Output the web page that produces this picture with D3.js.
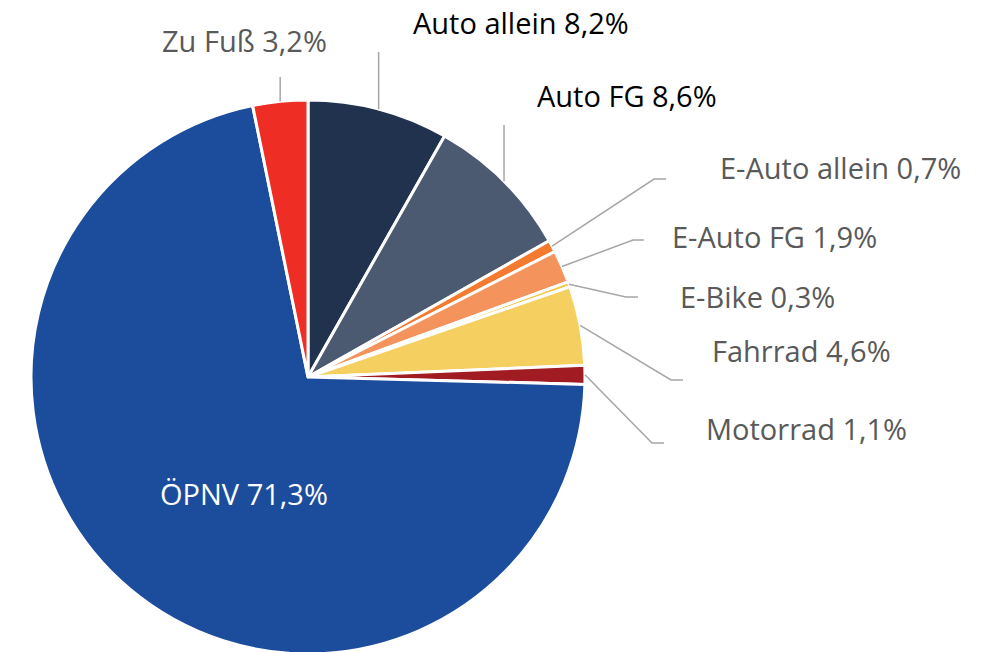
<!DOCTYPE html>
<html>
<head>
<meta charset="utf-8">
<script src="https://cdn.jsdelivr.net/npm/d3@7"></script>
<style>
  body { margin: 0; background: #fff; }
  text { font-family: "Open Sans", "Noto Sans", sans-serif; }
</style>
</head>
<body>
<script>
// Verkehrsmittelwahl (Anteile in %)
var categories = ["Auto allein", "Auto FG", "E-Auto allein", "E-Auto FG", "E-Bike", "Fahrrad", "Motorrad", "ÖPNV", "Zu Fuß"];
var shares = [8.2, 8.6, 0.7, 1.9, 0.3, 4.6, 1.1, 71.3, 3.2];
var shareLabels = ["8,2%", "8,6%", "0,7%", "1,9%", "0,3%", "4,6%", "1,1%", "71,3%", "3,2%"];
var colors = ["#21324f", "#4b5a71", "#f47a2f", "#f5935d", "#f5c542", "#f5cf60", "#a11c22", "#1c4d9c", "#ee2d24"];

// label layout (manual placement as in the original chart)
var labelLayout = [
  { x: 413, y: 22,  color: "#000",    elbow: [null, 52] },
  { x: 537, y: 95,  color: "#000",    elbow: [null, 125] },
  { x: 720, y: 167, color: "#595959", elbow: [654, 179], end: 666 },
  { x: 672, y: 236, color: "#595959", elbow: [633, 240], end: 644 },
  { x: 680, y: 296, color: "#595959", elbow: [626, 297], end: 638 },
  { x: 712, y: 350, color: "#595959", elbow: [671, 380], end: 683 },
  { x: 706, y: 428, color: "#595959", elbow: [652, 443], end: 664 },
  { x: 160, y: 493, color: "#fff",    inside: true },
  { x: 162, y: 40,  color: "#595959", elbow: [null, 77] }
];

var width = 981, height = 652;
var cx = 308, cy = 377, radius = 277;

var svg = d3.select("body").append("svg")
    .attr("width", width)
    .attr("height", height);

var data = categories.map(function(c, i) { return { name: c, value: shares[i], i: i }; });

var pie = d3.pie()
    .sort(null)
    .value(function(d) { return d.value; });

var arc = d3.arc().innerRadius(0).outerRadius(radius);

var arcs = pie(data);

var g = svg.append("g").attr("transform", "translate(" + cx + "," + cy + ")");

g.selectAll("path")
    .data(arcs)
    .enter().append("path")
      .attr("d", arc)
      .attr("fill", function(d) { return colors[d.data.i]; })
      .attr("stroke", "#fff")
      .attr("stroke-width", 3)
      .attr("stroke-linejoin", "round");

// leader lines
var lines = svg.append("g").attr("class", "leaders");
arcs.forEach(function(d) {
  var lay = labelLayout[d.data.i];
  if (lay.inside) return;
  var a = (d.startAngle + d.endAngle) / 2;
  var x0 = cx + radius * Math.sin(a), y0 = cy - radius * Math.cos(a);
  var pts = [[x0, y0]];
  if (lay.elbow[0] === null) {
    pts.push([x0, lay.elbow[1]]);
  } else {
    pts.push(lay.elbow);
    pts.push([lay.end, lay.elbow[1]]);
  }
  lines.append("path")
      .attr("d", d3.line()(pts))
      .attr("fill", "none")
      .attr("stroke", "#a6a6a6")
      .attr("stroke-width", 1.5);
});

// labels
svg.append("g").attr("class", "labels")
  .selectAll("text")
  .data(arcs)
  .enter().append("text")
    .attr("x", function(d) { return labelLayout[d.data.i].x; })
    .attr("y", function(d) { return labelLayout[d.data.i].y; })
    .attr("dominant-baseline", "central")
    .attr("font-size", 29)
    .attr("fill", function(d) { return labelLayout[d.data.i].color; })
    .text(function(d) { return d.data.name + " " + shareLabels[d.data.i]; });
</script>
</body>
</html>
